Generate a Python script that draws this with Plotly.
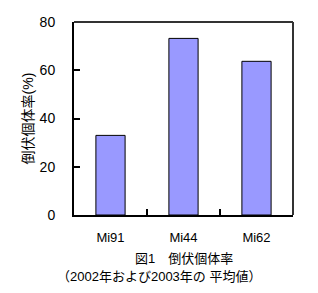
import plotly.graph_objects as go

categories = ["Mi91", "Mi44", "Mi62"]
values = [33, 73.2, 63.7]
y_ticks = [0, 20, 40, 60, 80]
y_title = "倒伏個体率(%)"
caption1 = "図1　倒伏個体率"
caption2 = "（2002年および2003年の 平均値）"

FONT = "Liberation Sans, Noto Sans CJK JP, sans-serif"

n = len(categories)
positions = list(range(n))
boundary_ticks = [i + 0.5 for i in range(n - 1)]

fig = go.Figure(go.Bar(
    x=positions, y=values,
    marker=dict(color="#9999FF", line=dict(color="black", width=1)),
))

fig.update_layout(
    width=318, height=293,
    margin=dict(l=74, r=25, t=22, b=78),
    paper_bgcolor="white", plot_bgcolor="white",
    bargap=0.6,
    showlegend=False,
    font=dict(family=FONT, size=13, color="black"),
    xaxis=dict(
        range=[-0.5, n - 0.5],
        tickvals=positions, ticktext=categories,
        showline=True, linecolor="black", linewidth=2,
        ticks="", showgrid=False, zeroline=False,
        tickfont=dict(size=13), ticklabelstandoff=9,
        minor=dict(tickvals=boundary_ticks, ticks="inside", ticklen=6,
                   tickwidth=2, tickcolor="black", showgrid=False),
    ),
    yaxis=dict(
        range=[0, 80], tickvals=y_ticks,
        showline=True, linecolor="black", linewidth=2,
        ticks="inside", ticklen=6, tickwidth=2, tickcolor="black",
        showgrid=False, zeroline=False,
        tickfont=dict(size=14), ticklabelstandoff=14,
        title=dict(text=y_title, font=dict(size=14), standoff=3),
    ),
    shapes=[
        dict(type="line", xref="paper", yref="paper", x0=0, x1=1, y0=1, y1=1,
             line=dict(color="#333333", width=2)),
        dict(type="line", xref="paper", yref="paper", x0=1, x1=1, y0=0, y1=1,
             line=dict(color="#333333", width=2)),
    ],
    annotations=[
        dict(text=caption1, xref="paper", yref="paper", x=0.5, y=0, yshift=-43,
             showarrow=False, font=dict(size=13), xanchor="center", yanchor="middle"),
        dict(text=caption2, xref="paper", yref="paper", x=0.39, y=0, yshift=-61,
             showarrow=False, font=dict(size=13), xanchor="center", yanchor="middle"),
    ],
)

fig.write_html("out.html")
